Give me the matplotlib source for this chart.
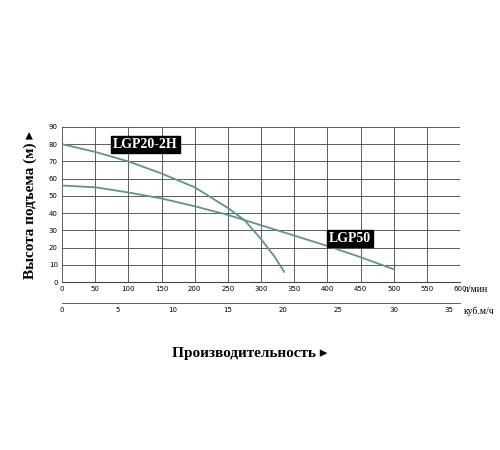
import matplotlib
matplotlib.use("Agg")
import matplotlib.pyplot as plt

flow_20 = [0, 50, 100, 150, 200, 250, 275, 300, 320, 335]
head_20 = [80, 75.5, 70, 63, 55, 43, 36, 25, 15, 6]
flow_50 = [0, 50, 100, 150, 200, 250, 300, 350, 400, 450, 500]
head_50 = [56, 55, 52, 48.5, 44, 39, 33, 27, 21, 14.5, 7.5]
x_ticks = list(range(0, 601, 50))
y_ticks = list(range(0, 91, 10))
m3_ticks = list(range(0, 36, 5))

fig = plt.figure(figsize=(5, 4.5), dpi=100)
ax = fig.add_axes([0.124, 0.373, 0.796, 0.345])
col = '#5f9297'
ax.plot(flow_20, head_20, color=col, lw=1.3)
ax.plot(flow_50, head_50, color=col, lw=1.3)
ax.set_xlim(0, 600)
ax.set_ylim(0, 90)
ax.set_xticks(x_ticks)
ax.set_yticks(y_ticks)
ax.tick_params(labelsize=5, length=0, pad=3)
ax.grid(True, color='#444444', lw=0.6)
for s in ax.spines.values():
    s.set_visible(False)
ax.set_axisbelow(True)

sec = ax.secondary_xaxis(-0.135, functions=(lambda x: x * 0.06, lambda x: x / 0.06))
sec.set_xticks(m3_ticks)
sec.tick_params(labelsize=5, length=0, pad=3)
sec.spines['bottom'].set_color('#444444')
sec.spines['bottom'].set_linewidth(0.6)
ax.spines['bottom'].set_visible(True)
ax.spines['bottom'].set_color('#444444')

ax.text(1.01, -0.05, 'л/мин', transform=ax.transAxes, fontsize=7, family='Liberation Serif', va='center')
ax.text(1.01, -0.19, 'куб.м/ч', transform=ax.transAxes, fontsize=7, family='Liberation Serif', va='center')

box = dict(boxstyle='square,pad=0.15', fc='black', ec='black')
ax.text(77, 80, 'LGP20-2H', color='white', fontsize=10, weight='bold', family='Liberation Serif', bbox=box, va='center')
ax.text(402, 25.5, 'LGP50', color='white', fontsize=10, weight='bold', family='Liberation Serif', bbox=box, va='center')

fig.text(0.5, 0.215, 'Производительность ▸', ha='center', va='center', fontsize=11, weight='bold', family=['Liberation Serif', 'DejaVu Sans'])
fig.text(0.06, 0.545, 'Высота подъема (м) ▸', ha='center', va='center', rotation=90, fontsize=11, weight='bold', family=['Liberation Serif', 'DejaVu Sans'])

fig.savefig('out.png', dpi=100, facecolor='white')
